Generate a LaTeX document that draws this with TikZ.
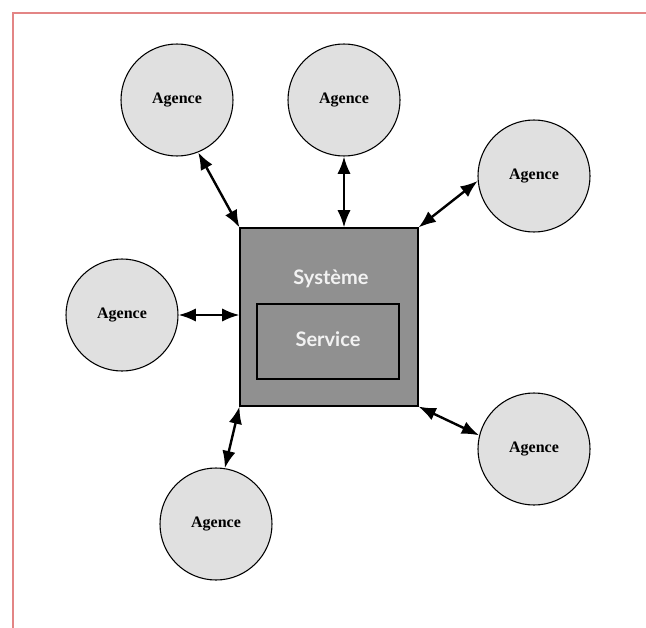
\documentclass[tikz,border=0pt]{standalone}
\usepackage{fontspec}
\setmainfont{Liberation Serif}
\newfontfamily\sysfont{Lato}
\usepackage{xcolor}
\usepackage{tikz}
\usetikzlibrary{arrows.meta}
\definecolor{agfill}{HTML}{E0E0E0}
\definecolor{sysfill}{HTML}{909090}
\definecolor{systext}{HTML}{F2F2F2}
\definecolor{frameline}{HTML}{E38585}

\begin{document}
\begin{tikzpicture}[x=0.75pt,y=-0.75pt,
  agence/.style={circle, draw, line width=0.8pt, fill=agfill, minimum size=84pt, inner sep=0pt, font=\fontsize{12}{14}\selectfont\bfseries},
  lien/.style={line width=1.8pt, {Latex[length=13pt,width=10pt]}-{Latex[length=13pt,width=10pt]}},
  systxt/.style={text=systext, font=\sysfont\fontsize{15}{18}\selectfont\bfseries}]
\useasboundingbox (0,0) rectangle (646,628);
\draw[frameline, line width=1.2pt](13,628) -- (13,13) -- (646,13);
\node[draw, line width=0.8pt, fill=sysfill, minimum size=133.5pt, inner sep=0pt] (Systeme) at (329,317){};
\node[draw, line width=0.8pt, minimum width=106.5pt, minimum height=56.25pt, inner sep=0pt] (Service) at (328,341.5){};
\node[systxt] (SystemeLabel) at (331,279){Système};
\node[systxt] (ServiceLabel) at (328,339){Service};
\node[agence] (Agence1) at (177,100){Agence};
\node[agence] (Agence2) at (344,100){Agence};
\node[agence] (Agence3) at (534,176){Agence};
\node[agence] (Agence4) at (122,315){Agence};
\node[agence] (Agence5) at (534,449){Agence};
\node[agence] (Agence6) at (216,524){Agence};
\draw[lien](Agence1.292) -- (Systeme.north west);
\draw[lien](Agence2.south) -- (Agence2.south |- Systeme.north);
\draw[lien](Agence3.185) -- (Systeme.north east);
\draw[lien](Agence4.east) -- (Agence4.east -| Systeme.west);
\draw[lien](Systeme.south east) -- (Agence5.166);
\draw[lien](Systeme.south west) -- (Agence6.81);
\end{tikzpicture}
\end{document}
